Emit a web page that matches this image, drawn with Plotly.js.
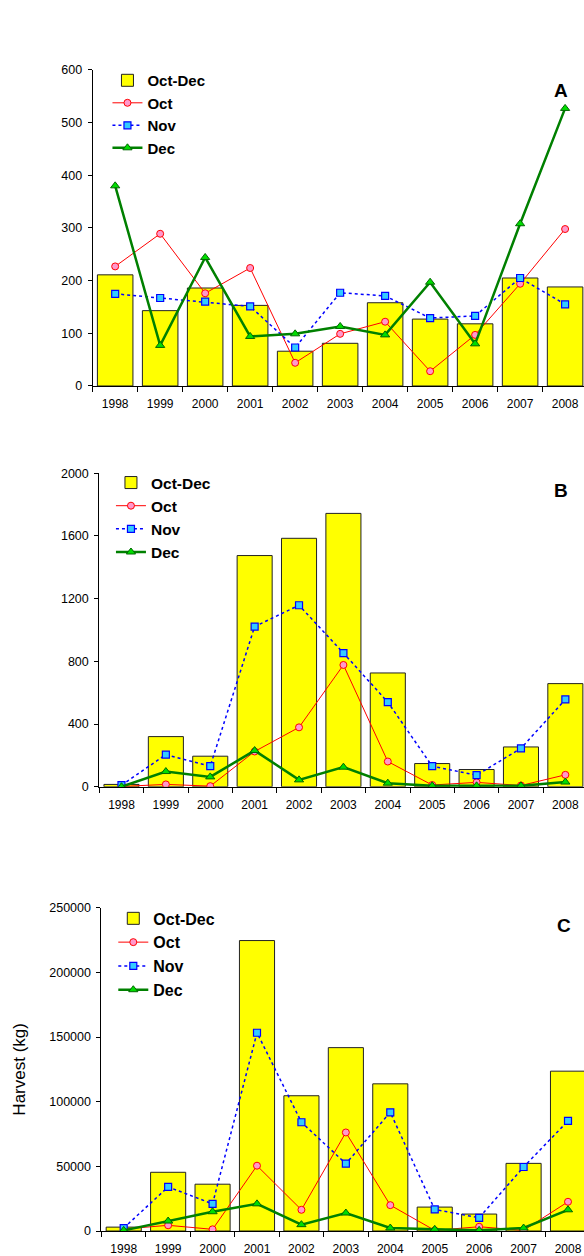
<!DOCTYPE html>
<html><head><meta charset="utf-8">
<script src="https://cdn.plot.ly/plotly-3.0.1.min.js"></script>
<style>html,body{margin:0;padding:0;background:#fff;}#chart{width:584px;height:1256px;}</style>
</head><body><div id="chart"></div>
<script>
const years = ['1998','1999','2000','2001','2002','2003','2004','2005','2006','2007','2008'];

const aTotal = [211,143,186,153,66,81,158,127,118,205,188];
const aOct   = [227,289,176,224,44,99,122,28,97,194,298];
const aNov   = [175,167,160,151,73,177,171,129,133,205,155];
const aDec   = [380,77,244,94,99,113,97,197,80,308,527];

const bTotal = [15,320,195,1475,1585,1744,726,148,110,254,658];
const bOct   = [2,15,4,225,379,777,161,11,28,8,76];
const bNov   = [10,205,131,1022,1158,853,540,131,74,245,557];
const bDec   = [0,97,63,231,44,125,23,6,6,6,30];

const cTotal = [3000,45400,36200,224600,104600,141800,113800,18500,13100,52300,123600];
const cOct   = [1500,4400,1300,50500,16400,76200,20000,500,3300,500,22600];
const cNov   = [2300,34100,21000,153300,84100,52100,91800,16700,10200,49500,85100];
const cDec   = [500,7700,14900,21000,4900,13900,2300,1300,500,2300,16400];

const legendNames = ['Oct-Dec','Oct','Nov','Dec'];
const panelLabels = ['A','B','C'];

const FONT = 'Liberation Sans, Arial, sans-serif';

function panelTraces(sfx, legendId, total, oct, nov, dec) {
  const xa = 'x' + sfx, ya = 'y' + sfx;
  return [
    {type:'bar', x:years, y:total, name:legendNames[0], xaxis:xa, yaxis:ya, legend:legendId,
     marker:{color:'#FFFF00', line:{color:'#222', width:1}}, hoverinfo:'x+y'},
    {type:'scatter', mode:'lines+markers', x:years, y:oct, name:legendNames[1], xaxis:xa, yaxis:ya, legend:legendId,
     line:{color:'#FF0000', width:1},
     marker:{symbol:'circle', size:7, color:'#FF99CC', line:{color:'#FF0000', width:1}}},
    {type:'scatter', mode:'lines+markers', x:years, y:nov, name:legendNames[2], xaxis:xa, yaxis:ya, legend:legendId,
     line:{color:'#0000FF', width:1.5, dash:'3px,3px'},
     marker:{symbol:'square', size:7, color:'#33CCFF', line:{color:'#0000FF', width:1.2}}},
    {type:'scatter', mode:'lines+markers', x:years, y:dec, name:legendNames[3], xaxis:xa, yaxis:ya, legend:legendId,
     line:{color:'#008000', width:2.5},
     marker:{symbol:'triangle-up', size:8, color:'#00DD00', line:{color:'#006600', width:1}}}
  ];
}

const data = [].concat(
  panelTraces('', 'legend', aTotal, aOct, aNov, aDec),
  panelTraces('2', 'legend2', bTotal, bOct, bNov, bDec),
  panelTraces('3', 'legend3', cTotal, cOct, cNov, cDec)
);

function xAxis(domainStart, rangeEnd, anchor) {
  return {domain:[domainStart, 1], range:[-0.5, rangeEnd], type:'category', anchor:anchor,
    showline:true, linecolor:'#000', linewidth:1, ticks:'outside', ticklen:5, tickcolor:'#000', tickwidth:1,
    tickson:'boundaries', showgrid:false, zeroline:false, automargin:false, ticklabelstandoff:7,
    tickfont:{family:FONT, size:12, color:'#000'}};
}
function yAxis(domain, max, dtick, anchor) {
  return {domain:domain, range:[0, max], dtick:dtick, tick0:0, anchor:anchor, tickformat:'d',
    showline:true, linecolor:'#000', linewidth:1, ticks:'outside', ticklen:4, tickcolor:'#000', tickwidth:1,
    showgrid:false, zeroline:false, automargin:false, ticklabelstandoff:3,
    tickfont:{family:FONT, size:12.5, color:'#000'}};
}
function legendCfg(x, y, size) {
  return {x:x, y:y, xanchor:'left', yanchor:'top', bgcolor:'rgba(0,0,0,0)', borderwidth:0,
    tracegroupgap:0, itemwidth:30, traceorder:'normal',
    font:{family:FONT, size:size, color:'#000', weight:'bold'}};
}

const y3 = yAxis([0.0199, 0.2773], 250000, 50000, 'x3');
y3.title = {text:'Harvest (kg)', font:{family:FONT, size:17, color:'#000'}, standoff:19};

const layout = {
  width:584, height:1256,
  margin:{l:0, r:0, t:0, b:0},
  paper_bgcolor:'#fff', plot_bgcolor:'#fff',
  bargap:0.21,
  showlegend:true,
  xaxis: xAxis(0.1587, 10.42, 'y'),
  yaxis: yAxis([0.6927, 0.9443], 600, 100, 'x'),
  xaxis2: xAxis(0.170, 10.42, 'y2'),
  yaxis2: yAxis([0.3736, 0.6232], 2000, 400, 'x2'),
  xaxis3: xAxis(0.1738, 10.36, 'y3'),
  yaxis3: y3,
  legend: legendCfg(0.184, 0.949, 15),
  legend2: legendCfg(0.190, 0.629, 15.5),
  legend3: legendCfg(0.194, 0.2823, 16),
  annotations: [
    {text:panelLabels[0], xref:'paper', yref:'paper', x:0.9606, y:0.928, xanchor:'center', yanchor:'middle', showarrow:false, font:{family:FONT, size:19, color:'#000', weight:'bold'}},
    {text:panelLabels[1], xref:'paper', yref:'paper', x:0.9606, y:0.6093, xanchor:'center', yanchor:'middle', showarrow:false, font:{family:FONT, size:19, color:'#000', weight:'bold'}},
    {text:panelLabels[2], xref:'paper', yref:'paper', x:0.9658, y:0.2635, xanchor:'center', yanchor:'middle', showarrow:false, font:{family:FONT, size:19, color:'#000', weight:'bold'}}
  ],
  font:{family:FONT, color:'#000'}
};

Plotly.newPlot('chart', data, layout, {displayModeBar:false, staticPlot:true});
</script>
</body></html>
